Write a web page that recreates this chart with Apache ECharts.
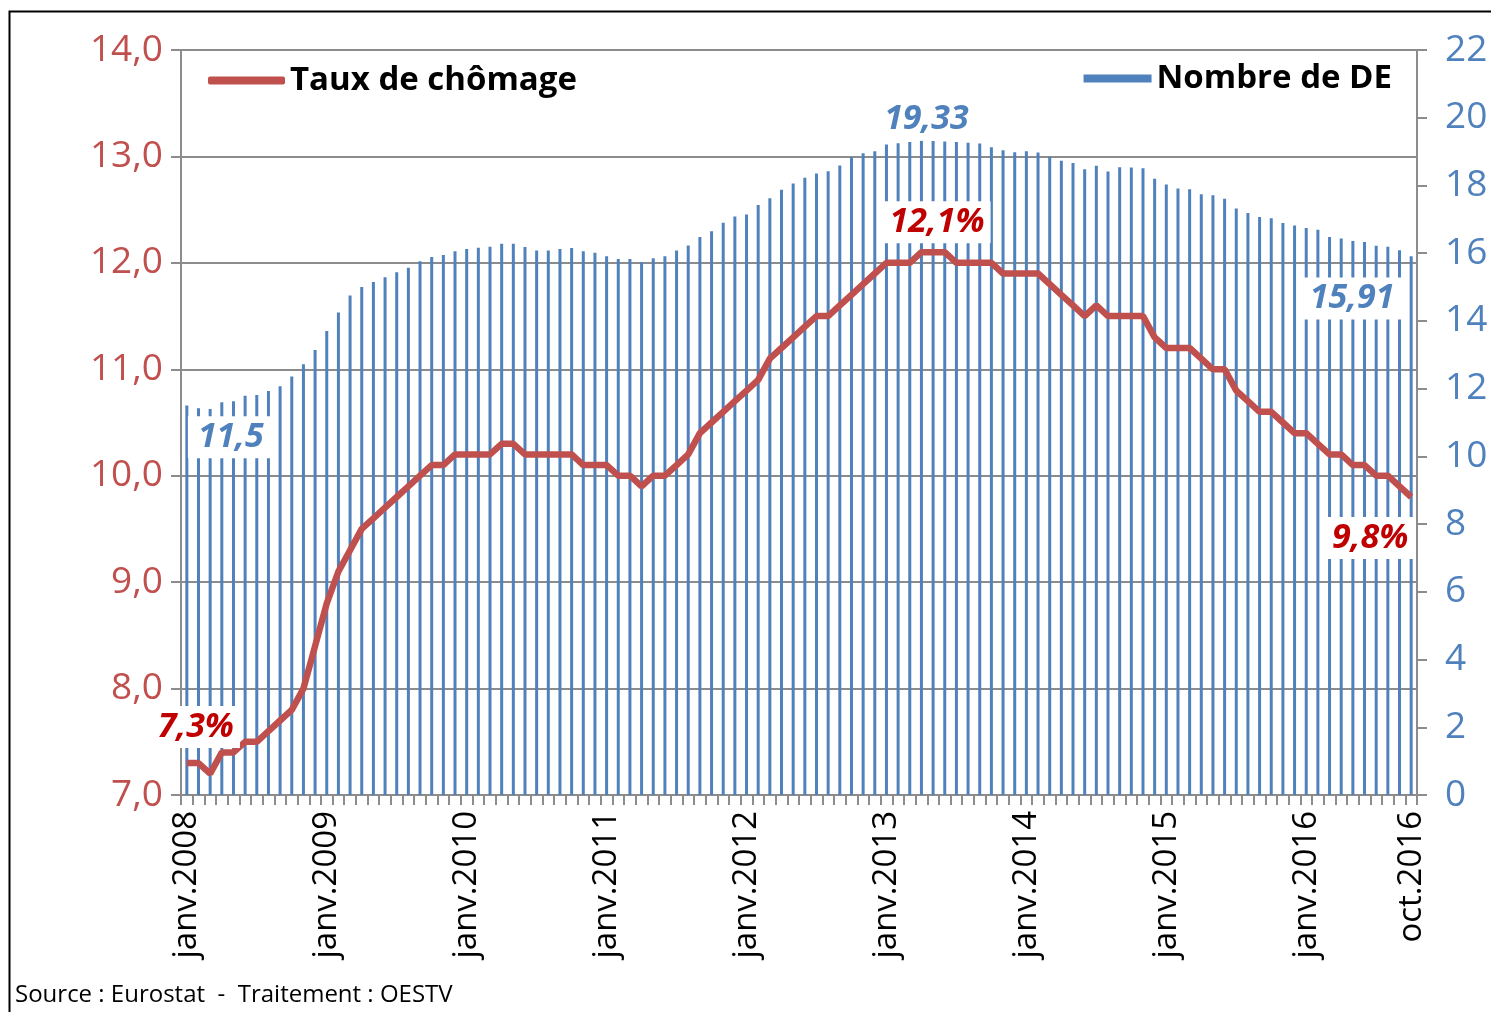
<!DOCTYPE html>
<html>
<head>
<meta charset="utf-8">
<script src="https://cdn.jsdelivr.net/npm/echarts@6/dist/echarts.min.js"></script>
<style>
html,body{margin:0;padding:0;background:#fff;}
#chart{width:1491px;height:1012px;}
</style>
</head>
<body>
<div id="chart"></div>
<script>
// ---- Data ----
const monthNames = ['janv.','févr.','mars.','avr.','mai.','juin.','juil.','août.','sept.','oct.','nov.','déc.'];
const years = [2008, 2009, 2010, 2011, 2012, 2013, 2014, 2015, 2016];
const categories = [];
years.forEach(y => monthNames.forEach((m, k) => { if (y < 2016 || k <= 9) categories.push(m + y); }));

// Taux de chômage (%), monthly, janv.2008 - oct.2016
const tauxChomage = [
  7.3, 7.3, 7.2, 7.4, 7.4, 7.5, 7.5, 7.6, 7.7, 7.8,
  8.0, 8.4, 8.8, 9.1, 9.3, 9.5, 9.6, 9.7, 9.8, 9.9,
  10.0, 10.1, 10.1, 10.2, 10.2, 10.2, 10.2, 10.3, 10.3, 10.2,
  10.2, 10.2, 10.2, 10.2, 10.1, 10.1, 10.1, 10.0, 10.0, 9.9,
  10.0, 10.0, 10.1, 10.2, 10.4, 10.5, 10.6, 10.7, 10.8, 10.9,
  11.1, 11.2, 11.3, 11.4, 11.5, 11.5, 11.6, 11.7, 11.8, 11.9,
  12.0, 12.0, 12.0, 12.1, 12.1, 12.1, 12.0, 12.0, 12.0, 12.0,
  11.9, 11.9, 11.9, 11.9, 11.8, 11.7, 11.6, 11.5, 11.6, 11.5,
  11.5, 11.5, 11.5, 11.3, 11.2, 11.2, 11.2, 11.1, 11.0, 11.0,
  10.8, 10.7, 10.6, 10.6, 10.5, 10.4, 10.4, 10.3, 10.2, 10.2,
  10.1, 10.1, 10.0, 10.0, 9.9, 9.8
];

// Nombre de DE (millions), monthly, janv.2008 - oct.2016
const nombreDE = [
  11.50, 11.42, 11.40, 11.60, 11.63, 11.79, 11.81, 11.93, 12.07, 12.36,
  12.72, 13.14, 13.70, 14.25, 14.75, 15.00, 15.15, 15.29, 15.44, 15.57,
  15.76, 15.89, 15.95, 16.06, 16.12, 16.16, 16.19, 16.28, 16.28, 16.18,
  16.08, 16.08, 16.12, 16.15, 16.06, 16.01, 15.91, 15.83, 15.83, 15.73,
  15.85, 15.91, 16.08, 16.23, 16.48, 16.65, 16.90, 17.08, 17.14, 17.42,
  17.62, 17.87, 18.06, 18.23, 18.35, 18.42, 18.59, 18.83, 18.95, 19.01,
  19.21, 19.25, 19.28, 19.33, 19.31, 19.30, 19.28, 19.26, 19.24, 19.13,
  19.04, 18.98, 19.01, 18.97, 18.85, 18.73, 18.66, 18.48, 18.58, 18.41,
  18.54, 18.53, 18.51, 18.20, 18.03, 17.91, 17.89, 17.74, 17.71, 17.61,
  17.32, 17.19, 17.07, 17.03, 16.89, 16.82, 16.74, 16.69, 16.48, 16.43,
  16.36, 16.33, 16.22, 16.19, 16.09, 15.91
];

const leftTicks = [7, 14, 1];   // min, max, interval
const rightTicks = [0, 22, 2];

// ---- Annotations (which points get a label, and where) ----
const rateLabels = { 0: [9, -36], 64: [4, -30], 105: [-41, 41] };
const countLabels = { 0: { off: [44, -163], dec: 1 }, 63: { off: [5, -348], dec: 2 }, 105: { off: [-59, -227], dec: 2 } };

const RED = '#C0504D', DARKRED = '#C00000', BLUE = '#4F81BD', GRID = '#8C8C8C';
const FONT = 'Open Sans';

const fmt = (v, d) => v.toFixed(d).replace('.', ',');

const lineData = tauxChomage.map((v, i) => {
  if (rateLabels[i]) {
    return {
      value: v,
      label: {
        show: true, position: 'inside', offset: rateLabels[i],
        formatter: p => fmt(p.value, 1) + '%',
        color: DARKRED, fontSize: 34, fontWeight: 'bold', fontStyle: 'italic', fontFamily: FONT,
        backgroundColor: '#fff', padding: [4, 6]
      }
    };
  }
  return v;
});

const barData = nombreDE.map((v, i) => {
  const c = countLabels[i];
  if (c) {
    return {
      value: v,
      label: {
        show: true, position: 'inside', offset: c.off,
        formatter: p => fmt(p.value, c.dec),
        color: BLUE, fontSize: 34, fontWeight: 'bold', fontStyle: 'italic', fontFamily: FONT,
        backgroundColor: '#fff', padding: [4, 10]
      }
    };
  }
  return v;
});

const chart = echarts.init(document.getElementById('chart'), null, { renderer: 'canvas' });
chart.setOption({
  animation: false,
  backgroundColor: '#fff',
  textStyle: { fontFamily: FONT },
  grid: { left: 181, right: 74, top: 50, bottom: 217, containLabel: false },
  legend: [
    {
      data: ['Taux de chômage'], left: 203, top: 59, icon: 'roundRect', itemWidth: 77, itemHeight: 8,
      textStyle: { fontSize: 33, fontWeight: 'bold', color: '#000', fontFamily: FONT }
    },
    {
      data: ['Nombre de DE'], right: 94, top: 57, icon: 'rect', itemWidth: 68, itemHeight: 8,
      textStyle: { fontSize: 33, fontWeight: 'bold', color: '#000', fontFamily: FONT }
    }
  ],
  xAxis: {
    type: 'category', data: categories, boundaryGap: true,
    axisLine: { lineStyle: { color: GRID, width: 2 } },
    axisTick: { show: true, interval: 0, length: 10, lineStyle: { color: GRID, width: 2 } },
    axisLabel: {
      interval: (i) => i % 12 === 0 || i === categories.length - 1,
      rotate: 90, margin: 16, color: '#000', fontSize: 33, fontFamily: FONT
    },
    splitLine: { show: false }
  },
  yAxis: [
    {
      type: 'value', min: leftTicks[0], max: leftTicks[1], interval: leftTicks[2], position: 'left',
      axisLine: { show: true, lineStyle: { color: GRID, width: 2 } },
      axisTick: { show: true, length: 10, lineStyle: { color: GRID, width: 2 } },
      axisLabel: { color: RED, fontSize: 37, margin: 18, fontFamily: FONT, formatter: v => fmt(v, 1) },
      splitLine: { show: true, lineStyle: { color: GRID, width: 2 } }
    },
    {
      type: 'value', min: rightTicks[0], max: rightTicks[1], interval: rightTicks[2], position: 'right',
      axisLine: { show: true, lineStyle: { color: GRID, width: 2 } },
      axisTick: { show: true, length: 10, lineStyle: { color: GRID, width: 2 } },
      axisLabel: { color: BLUE, fontSize: 37, margin: 28, fontFamily: FONT },
      splitLine: { show: false }
    }
  ],
  series: [
    {
      name: 'Nombre de DE', type: 'bar', yAxisIndex: 1, data: barData,
      barWidth: 3, itemStyle: { color: BLUE }, z: 2, silent: true
    },
    {
      name: 'Taux de chômage', type: 'line', yAxisIndex: 0, data: lineData,
      showSymbol: true, showAllSymbol: true, symbol: 'circle', symbolSize: 1,
      itemStyle: { color: RED }, lineStyle: { color: RED, width: 6.5 },
      z: 5, silent: true
    }
  ],
  graphic: [
    {
      type: 'rect', left: 7, top: 9, z: 100, silent: true,
      shape: { x: 0, y: 0, width: 1500, height: 1020 },
      style: { fill: 'none', stroke: '#000', lineWidth: 2 }
    },
    {
      type: 'text', left: 15, top: 983, z: 100,
      style: { text: 'Source : Eurostat  -  Traitement : OESTV', font: '24px "Open Sans"', fill: '#000' }
    }
  ]
});
</script>
</body>
</html>
